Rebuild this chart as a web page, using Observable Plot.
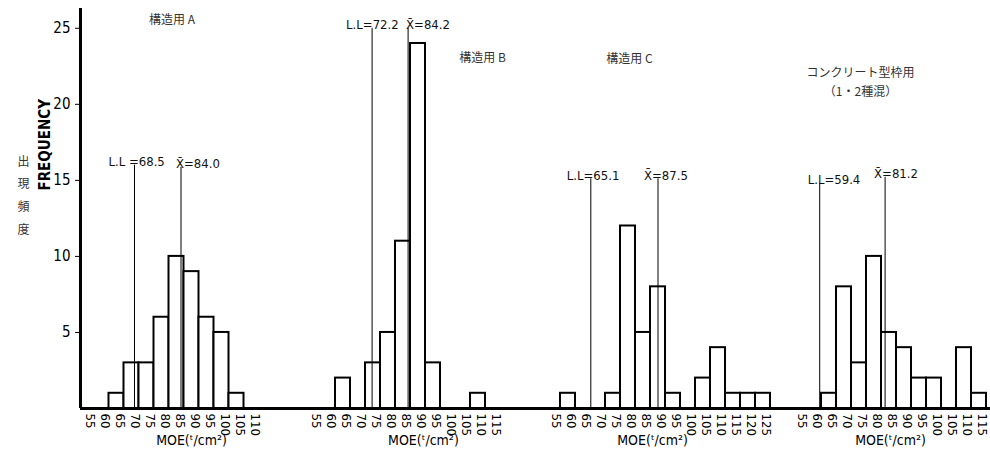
<!DOCTYPE html>
<html>
<head>
<meta charset="utf-8">
<script src="https://cdn.jsdelivr.net/npm/d3@7"></script>
<script src="https://cdn.jsdelivr.net/npm/@observablehq/plot@0.6"></script>
<style>
  html, body { margin: 0; padding: 0; background: #fff; }
  #chart { width: 990px; height: 461px; }
  #chart svg text { font-stretch: condensed; }
</style>
</head>
<body>
<div id="chart"></div>
<script>
// ---- data ----
const panelNames = ["A", "B", "C", "D"];
const binWidth = 5;

const binStartsA = [60, 65, 70, 75, 80, 85, 90, 95, 100];
const countsA    = [1, 3, 3, 6, 10, 9, 6, 5, 1];
const binStartsB = [60, 70, 75, 80, 85, 90, 105];
const countsB    = [2, 3, 5, 11, 24, 3, 1];
const binStartsC = [55, 70, 75, 80, 85, 90, 100, 105, 110, 115, 120];
const countsC    = [1, 1, 12, 5, 8, 1, 2, 4, 1, 1, 1];
const binStartsD = [60, 65, 70, 75, 80, 85, 90, 95, 105, 110];
const countsD    = [1, 8, 3, 10, 5, 4, 2, 2, 4, 1];

const tickLabelsA = [55, 60, 65, 70, 75, 80, 85, 90, 95, 100, 105, 110];
const tickLabelsB = [55, 60, 65, 70, 75, 80, 85, 90, 95, 100, 105, 110, 115];
const tickLabelsC = [55, 60, 65, 70, 75, 80, 85, 90, 95, 100, 105, 110, 115, 120, 125];
const tickLabelsD = [55, 60, 65, 70, 75, 80, 85, 90, 95, 100, 105, 110, 115];
const yTicks = [5, 10, 15, 20, 25];

const llValues   = [68.5, 72.2, 65.1, 59.4];
const meanValues = [84.0, 84.2, 87.5, 81.2];
const llLabels   = ["L.L =68.5", "L.L=72.2", "L.L=65.1", "L.L=59.4"];
const meanLabels = ["X\u0304=84.0", "X\u0304=84.2", "X\u0304=87.5", "X\u0304=81.2"];

const panelTitles = ["構造用 A", "構造用 B", "構造用 C", "コンクリート型枠用\n（1・2種混）"];
const xLabel = "MOE(ᵗ/cm²)";
const yLabel = "FREQUENCY";
const yLabelJa = "出\n現\n頻\n度";

// ---- layout (not data) ----
const panelOffsets = [-50.5, 25, 105, 187];     // shift of each panel along the shared x scale
const llTops   = [16.0, 25.0, 15.1, 14.8];
const meanTops = [15.85, 25.0, 15.1, 15.2];
const llDx     = [-26, -26, -24, -12];
const meanDx   = [-5, -2, -14, -11];
const titleX   = [81, 109, 78, 73];
const titleY   = [25.7, 23.2, 23.1, 21.6];
const xLabelX  = [87.5, 89.3, 85.7, 83];

const binStarts = [binStartsA, binStartsB, binStartsC, binStartsD];
const counts = [countsA, countsB, countsC, countsD];
const tickLabels = [tickLabelsA, tickLabelsB, tickLabelsC, tickLabelsD];

const bars = [];
panelNames.forEach((p, i) => {
  binStarts[i].forEach((s, j) => {
    bars.push({panel: p, x1: s + panelOffsets[i], x2: s + binWidth + panelOffsets[i], count: counts[i][j]});
  });
});
const refLines = [];
panelNames.forEach((p, i) => {
  refLines.push({x: llValues[i] + panelOffsets[i], top: llTops[i], label: llLabels[i], dx: llDx[i]});
  refLines.push({x: meanValues[i] + panelOffsets[i], top: meanTops[i], label: meanLabels[i], dx: meanDx[i]});
});
const titles = panelNames.map((p, i) => ({x: titleX[i] + panelOffsets[i], y: titleY[i], text: panelTitles[i]}));
const xLabels = panelNames.map((p, i) => ({x: xLabelX[i] + panelOffsets[i], text: xLabel}));

const font = "'DejaVu Sans Condensed', 'DejaVu Sans', sans-serif";

const xAxes = panelNames.map((p, i) => Plot.axisX(
  tickLabels[i].map(v => v + panelOffsets[i]),
  {
    anchor: "bottom",
    tickFormat: g => String(Math.round(g - panelOffsets[i])),
    tickRotate: 90,
    tickSize: 0,
    tickPadding: 5,
    fontSize: 13,
    dx: -4,
    label: null
  }
));

const refLabels = refLines.map(d => Plot.text([d], {
  x: "x", y: "top", text: "label", textAnchor: "start", lineAnchor: "bottom",
  dx: d.dx, dy: 1, fontSize: 13, fill: "#111"
}));

const chart = Plot.plot({
  width: 990,
  height: 461,
  marginLeft: 80,
  marginRight: 0,
  marginTop: 8,
  marginBottom: 53,
  style: {fontFamily: font, fontSize: "13px", background: "#fff", color: "#000"},
  x: {type: "linear", domain: [0, 303.33], axis: null},
  y: {domain: [0, 26.3], axis: null},
  marks: [
    Plot.rectY(bars, {x1: "x1", x2: "x2", y: "count", fill: "white", stroke: "black", strokeWidth: 2}),
    Plot.ruleX(refLines, {x: "x", y1: 0, y2: "top", stroke: "black", strokeWidth: 1}),
    ...refLabels,
    Plot.ruleY([0], {stroke: "black", strokeWidth: 3}),
    Plot.ruleX([0], {y1: 0, y2: 26.3, stroke: "black", strokeWidth: 3}),
    Plot.axisY({ticks: yTicks, tickSize: 5, tickPadding: 5, fontSize: 15, label: null}),
    ...xAxes,
    Plot.text(titles, {x: "x", y: "y", text: "text", fontFamily: "'Noto Sans CJK JP', sans-serif", fontSize: 12, lineHeight: 1.6, fill: "#333"}),
    Plot.text(xLabels, {x: "x", frameAnchor: "bottom", text: "text", dy: 36, fontSize: 14}),
    Plot.text([yLabel], {frameAnchor: "left", dx: -35, dy: -18, rotate: -90, fontSize: 15, fontWeight: "bold"}),
    Plot.text([yLabelJa], {frameAnchor: "left", dx: -63, dy: -16, fontFamily: "'Noto Sans CJK JP', sans-serif", fontSize: 12, lineHeight: 1.9, fill: "#333"})
  ]
});
document.getElementById("chart").appendChild(chart);
</script>
</body>
</html>
